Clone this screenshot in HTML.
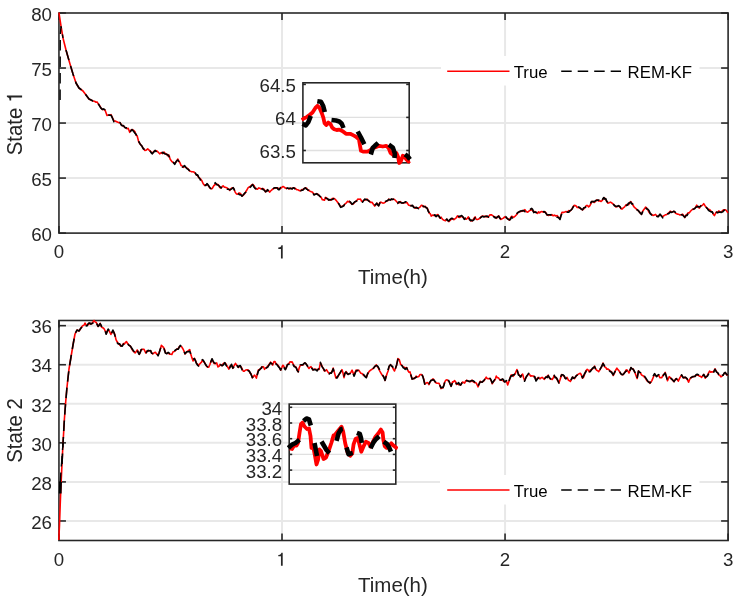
<!DOCTYPE html><html><head><meta charset="utf-8"><style>html,body{margin:0;padding:0;background:#fff;}svg{display:block;will-change:transform;}</style></head><body>
<svg width="742" height="600" viewBox="0 0 742 600" font-family="&apos;Liberation Sans&apos;, sans-serif" font-size="18.7" fill="#262626">
<rect x="0" y="0" width="742" height="600" fill="#fff"/>
<line x1="58.95" y1="178.07" x2="728.1" y2="178.07" stroke="#e8e8e8" stroke-width="2"/>
<line x1="58.95" y1="123.05" x2="728.1" y2="123.05" stroke="#e8e8e8" stroke-width="2"/>
<line x1="58.95" y1="68.03" x2="728.1" y2="68.03" stroke="#e8e8e8" stroke-width="2"/>
<line x1="282.0" y1="13.0" x2="282.0" y2="233.1" stroke="#e8e8e8" stroke-width="2"/>
<line x1="505.05" y1="13.0" x2="505.05" y2="233.1" stroke="#e8e8e8" stroke-width="2"/>
<rect x="58.95" y="13.0" width="669.15" height="220.1" fill="none" stroke="#262626" stroke-width="1.58"/>
<line x1="58.95" y1="233.1" x2="65.95" y2="233.1" stroke="#262626" stroke-width="1.58"/>
<line x1="728.1" y1="233.1" x2="721.1" y2="233.1" stroke="#262626" stroke-width="1.58"/>
<line x1="58.95" y1="178.07" x2="65.95" y2="178.07" stroke="#262626" stroke-width="1.58"/>
<line x1="728.1" y1="178.07" x2="721.1" y2="178.07" stroke="#262626" stroke-width="1.58"/>
<line x1="58.95" y1="123.05" x2="65.95" y2="123.05" stroke="#262626" stroke-width="1.58"/>
<line x1="728.1" y1="123.05" x2="721.1" y2="123.05" stroke="#262626" stroke-width="1.58"/>
<line x1="58.95" y1="68.03" x2="65.95" y2="68.03" stroke="#262626" stroke-width="1.58"/>
<line x1="728.1" y1="68.03" x2="721.1" y2="68.03" stroke="#262626" stroke-width="1.58"/>
<line x1="58.95" y1="13.0" x2="65.95" y2="13.0" stroke="#262626" stroke-width="1.58"/>
<line x1="728.1" y1="13.0" x2="721.1" y2="13.0" stroke="#262626" stroke-width="1.58"/>
<line x1="58.95" y1="233.1" x2="58.95" y2="226.1" stroke="#262626" stroke-width="1.58"/>
<line x1="58.95" y1="13.0" x2="58.95" y2="20.0" stroke="#262626" stroke-width="1.58"/>
<line x1="282.0" y1="233.1" x2="282.0" y2="226.1" stroke="#262626" stroke-width="1.58"/>
<line x1="282.0" y1="13.0" x2="282.0" y2="20.0" stroke="#262626" stroke-width="1.58"/>
<line x1="505.05" y1="233.1" x2="505.05" y2="226.1" stroke="#262626" stroke-width="1.58"/>
<line x1="505.05" y1="13.0" x2="505.05" y2="20.0" stroke="#262626" stroke-width="1.58"/>
<line x1="728.1" y1="233.1" x2="728.1" y2="226.1" stroke="#262626" stroke-width="1.58"/>
<line x1="728.1" y1="13.0" x2="728.1" y2="20.0" stroke="#262626" stroke-width="1.58"/>
<polyline points="58.6,12.8 59.0,13.0 61.0,26.0 63.0,38.0 66.0,50.0 70.0,64.0 73.0,74.0 76.0,83.0 79.0,88.0 83.0,91.0 86.0,95.0 89.0,99.0 93.0,101.0 94.5,101.3 96.0,102.2 97.0,101.9 98.0,103.4 99.5,105.4 101.0,107.9 102.3,109.5 103.7,109.4 105.0,110.0 106.0,112.8 107.0,115.5 108.3,115.0 109.7,115.3 111.0,114.6 112.5,117.8 114.0,120.8 115.3,121.1 116.7,121.7 118.0,122.3 119.0,122.7 120.0,122.6 121.1,124.1 122.2,125.7 123.5,125.9 124.7,127.2 126.0,128.1 127.1,128.7 128.2,128.3 129.7,132.3 130.8,130.2 132.0,129.6 133.5,130.2 135.0,131.9 136.1,135.2 137.2,136.0 138.7,141.9 140.2,143.9 141.7,145.9 143.2,148.3 144.7,150.4 146.2,150.1 147.7,148.9 148.8,149.8 150.0,150.9 151.1,151.9 152.2,153.5 153.7,151.6 155.2,151.0 156.7,150.8 158.2,152.2 159.7,153.8 161.2,152.5 162.7,153.6 164.0,152.1 165.2,153.6 166.5,154.0 167.6,155.7 168.7,154.8 170.2,159.2 171.7,161.4 173.2,162.6 174.7,163.4 176.2,161.9 177.7,159.0 178.8,161.0 180.0,162.7 181.1,165.6 182.2,165.9 183.3,167.3 184.5,166.6 185.7,167.0 187.0,168.3 188.2,169.0 189.7,171.1 191.2,171.6 192.7,171.8 194.2,172.1 195.3,173.6 196.5,175.1 197.6,175.6 198.7,177.6 200.2,178.5 201.7,180.4 203.2,183.8 204.7,185.6 205.8,185.1 207.0,184.1 208.5,186.0 210.0,188.1 211.1,188.8 212.2,188.5 213.7,185.9 215.2,184.4 217.0,184.2 218.4,184.8 219.7,187.4 221.1,187.9 222.1,186.7 223.1,185.8 224.2,187.1 225.4,187.3 226.5,187.8 227.6,188.3 228.7,189.1 229.8,190.4 230.9,188.9 232.1,187.7 233.2,187.9 234.2,189.7 235.2,192.1 236.2,193.6 237.2,194.3 238.2,193.6 239.3,193.0 240.7,193.8 242.0,196.0 243.3,195.3 244.6,193.8 245.7,191.8 246.9,190.0 248.0,187.9 249.3,186.9 250.7,186.1 251.7,185.0 252.7,184.3 254.1,185.7 255.4,188.5 256.4,189.0 257.5,189.1 258.8,187.9 260.1,188.3 261.2,189.0 262.4,188.4 263.5,188.8 264.5,190.1 265.5,192.0 266.6,190.4 267.6,190.3 268.6,190.7 269.6,192.1 270.6,191.0 271.6,190.2 272.7,188.9 273.9,188.5 275.0,187.9 276.0,188.1 277.0,187.7 278.0,188.0 279.0,189.2 280.4,188.7 281.7,187.4 283.1,186.5 284.2,187.1 285.3,188.1 286.4,188.5 287.5,188.1 288.7,188.9 289.8,188.8 290.9,188.2 292.1,188.6 293.2,188.0 294.5,188.0 295.9,189.0 297.0,189.8 298.1,189.8 299.2,190.6 300.5,190.8 301.9,189.5 303.0,189.5 304.2,188.8 305.3,187.8 306.6,188.3 308.0,190.4 309.0,190.2 310.0,191.2 311.4,191.8 312.7,192.3 314.0,194.6 315.4,194.0 316.7,194.0 317.8,194.1 319.0,195.6 320.1,196.5 321.2,197.4 322.4,199.8 323.5,199.9 324.5,200.1 325.5,197.4 326.6,197.7 327.8,199.6 328.9,199.9 329.9,199.8 330.9,200.3 332.2,198.6 333.6,198.3 334.7,198.9 335.9,200.1 337.0,201.4 338.0,202.7 339.0,204.6 340.7,206.8 342.2,206.2 343.7,205.8 345.0,203.9 346.4,202.9 347.4,201.3 348.4,201.9 349.4,201.2 350.4,202.8 352.0,204.1 353.2,204.1 354.5,202.4 355.6,201.5 356.7,200.7 357.8,199.1 359.1,199.2 360.5,199.0 361.6,201.3 362.6,201.4 363.7,200.5 364.8,199.9 365.9,199.9 367.0,199.0 368.2,200.6 369.3,201.1 370.6,202.4 372.0,202.2 373.4,204.2 374.7,206.1 375.7,204.9 376.7,203.3 377.7,203.8 378.7,205.7 380.1,202.3 381.5,202.4 382.8,203.1 384.1,203.0 385.5,201.8 386.6,200.9 387.7,200.8 388.8,199.1 390.1,199.8 391.5,199.6 392.9,199.3 394.2,199.2 395.3,200.3 396.5,201.5 397.6,202.7 399.0,203.0 400.3,201.6 401.6,202.8 403.0,203.3 404.4,202.5 405.7,202.7 407.0,202.5 408.4,204.9 409.7,205.5 411.0,205.5 412.4,205.7 413.8,207.0 415.1,208.0 416.2,208.3 417.4,208.2 418.5,208.2 419.9,207.2 421.2,205.4 422.2,205.4 423.2,206.7 424.2,206.6 425.2,206.3 426.2,207.8 427.2,208.0 428.2,210.4 429.3,213.2 430.3,213.8 431.3,216.1 432.6,215.1 434.0,215.6 435.0,215.4 436.0,216.2 437.0,214.8 438.0,214.6 439.0,216.7 440.0,217.9 441.1,217.2 442.1,218.8 443.1,219.8 444.1,220.2 445.5,220.7 446.8,219.3 447.8,220.4 448.8,221.6 449.8,220.7 450.8,219.7 451.8,218.8 452.8,218.6 453.9,219.6 454.9,218.8 456.2,217.8 457.6,215.8 458.6,217.2 459.6,217.5 460.6,216.9 461.6,216.1 463.0,217.3 464.3,218.3 465.3,218.9 466.3,219.2 467.3,218.3 468.3,216.9 469.4,219.6 470.4,220.5 471.4,220.9 472.4,220.8 473.8,218.6 475.1,216.9 476.1,219.3 477.1,219.6 478.1,219.3 479.1,218.7 480.2,218.0 481.4,216.5 482.5,216.1 483.6,216.2 484.8,216.8 485.9,216.0 487.2,217.1 488.6,216.5 490.0,214.9 491.3,214.7 492.6,215.6 493.9,216.4 495.2,216.9 496.6,218.3 497.6,217.1 498.7,215.9 499.7,217.4 500.7,219.4 502.0,218.8 503.4,218.1 504.7,216.9 505.7,217.3 506.7,218.2 508.0,218.9 509.4,220.2 510.4,218.2 511.5,216.4 512.5,216.5 513.5,217.5 514.5,216.6 515.5,215.8 516.5,214.8 517.5,213.2 518.9,211.8 520.2,211.6 521.5,211.3 522.9,211.2 523.9,210.2 524.9,209.6 526.2,211.5 527.6,212.2 528.6,211.5 529.6,210.5 530.7,210.2 531.7,208.9 532.7,210.9 533.7,211.7 535.0,211.5 536.4,212.8 537.5,213.4 538.7,211.8 539.8,212.8 540.8,211.7 541.8,211.5 542.9,211.9 544.0,212.1 545.1,211.7 546.2,213.5 547.2,215.0 548.5,215.4 549.9,215.0 550.9,215.2 551.9,214.6 553.2,215.8 554.6,215.1 556.0,216.1 557.3,215.6 558.6,217.6 560.0,218.6 561.0,215.2 562.0,212.3 563.4,212.4 564.7,212.0 566.0,211.5 567.4,212.0 568.8,210.6 570.1,211.0 571.1,210.0 572.1,208.7 573.9,205.6 575.0,205.4 576.1,206.0 577.2,207.5 578.2,207.3 579.5,208.1 580.9,208.6 582.5,209.9 583.7,208.9 584.9,207.6 586.2,205.6 587.6,205.6 588.6,206.9 589.6,206.1 590.6,204.4 591.6,201.6 593.0,201.5 594.3,202.5 595.6,201.3 597.0,199.8 598.4,200.9 599.7,200.6 601.1,201.5 602.5,200.2 603.8,197.8 604.8,198.2 605.8,199.7 606.8,201.2 607.8,203.2 609.1,202.8 610.5,202.1 611.9,203.0 613.2,204.2 614.5,205.2 615.9,207.0 617.2,206.5 618.6,205.9 620.0,207.3 621.3,208.9 622.3,208.9 623.3,207.8 624.6,206.9 626.0,204.9 627.4,204.6 628.7,204.6 629.7,202.6 630.7,201.5 631.7,203.0 632.7,204.8 634.0,206.8 635.4,208.1 636.8,209.3 638.1,210.7 639.2,211.5 640.4,213.2 641.5,214.3 642.5,211.7 643.5,210.0 644.5,208.8 645.5,207.2 646.5,207.8 647.6,209.4 649.0,212.2 650.3,213.6 651.6,214.3 653.0,215.5 654.3,214.9 655.6,214.4 657.0,216.4 658.3,216.2 660.0,214.7 661.4,215.8 662.7,216.8 664.0,215.7 665.4,214.8 666.5,214.7 667.5,213.9 668.9,212.7 670.2,211.2 671.3,212.0 672.4,211.9 674.0,211.3 675.6,213.3 676.7,213.7 677.8,214.2 678.8,214.3 679.9,215.0 681.2,214.8 682.6,214.1 683.7,215.6 684.8,217.6 685.9,215.1 687.0,214.3 688.0,212.9 689.1,213.0 690.7,211.0 692.3,209.5 693.4,209.1 694.5,208.7 695.6,207.4 696.7,205.2 698.0,207.0 699.4,208.1 700.5,205.9 701.5,205.7 702.6,205.1 703.7,203.6 705.3,206.2 706.3,207.4 707.4,208.4 708.5,209.6 709.6,209.6 711.0,211.0 712.3,212.2 713.3,214.2 714.4,215.6 716.1,212.2 717.5,212.4 718.8,210.9 720.1,212.2 721.5,211.7 722.9,210.3 724.2,209.8 725.2,209.8 726.3,210.4 727.9,212.9" fill="none" stroke="#ff0000" stroke-width="1.6" stroke-linejoin="round"/>
<polyline points="60.1,100 60.2,60 60.3,35 61,26 63,38" fill="none" stroke="#000" stroke-width="1.4" stroke-dasharray="10.5 6"/>
<polyline points="66.0,50.0 70.0,64.0 73.0,74.0 76.0,83.0 79.0,88.0 83.0,91.0 86.0,95.0 89.0,99.0 93.0,101.0 94.5,101.3 96.0,101.8 97.0,102.1 98.0,103.2 99.5,105.9 101.0,108.2 102.3,109.4 103.7,108.9 105.0,110.0 106.0,112.2 107.0,114.6 108.3,114.9 109.7,115.1 111.0,115.2 112.5,118.2 114.0,122.0 115.3,122.1 116.7,121.6 118.0,123.1 119.0,122.6 120.0,122.5 121.1,124.8 122.2,125.6 123.5,125.6 124.7,127.4 126.0,127.9 127.1,127.8 128.2,128.3 129.7,132.2 130.8,131.1 132.0,129.6 133.5,131.2 135.0,133.3 136.1,134.4 137.2,136.6 138.7,141.4 140.2,144.2 141.7,145.7 143.2,148.7 144.7,149.6 146.2,149.1 147.7,149.0 148.8,149.7 150.0,150.9 151.1,152.6 152.2,153.8 153.7,152.1 155.2,150.4 156.7,152.2 158.2,152.9 159.7,154.1 161.2,154.0 162.7,152.3 164.0,153.3 165.2,154.0 166.5,154.2 167.6,154.7 168.7,155.9 170.2,158.5 171.7,161.4 173.2,162.2 174.7,164.3 176.2,161.4 177.7,160.0 178.8,161.2 180.0,162.4 181.1,165.1 182.2,167.1 183.3,166.7 184.5,165.6 185.7,167.2 187.0,168.6 188.2,169.4 189.7,170.8 191.2,172.2 192.7,172.0 194.2,173.1 195.3,173.0 196.5,175.1 197.6,174.8 198.7,177.1 200.2,179.4 201.7,182.8 203.2,183.7 204.7,184.8 205.8,185.5 207.0,183.6 208.5,185.5 210.0,187.9 211.1,188.6 212.2,188.5 213.7,186.2 215.2,182.7 217.0,184.8 218.4,185.2 219.7,186.5 221.1,187.9 222.1,187.0 223.1,186.4 224.2,186.5 225.4,187.6 226.5,188.5 227.6,189.3 228.7,189.3 229.8,189.9 230.9,189.3 232.1,188.6 233.2,187.7 234.2,189.5 235.2,191.5 236.2,193.6 237.2,194.5 238.2,193.7 239.3,194.6 240.7,194.7 242.0,196.1 243.3,194.8 244.6,193.2 245.7,192.4 246.9,190.1 248.0,188.3 249.3,187.8 250.7,186.8 251.7,185.5 252.7,184.5 254.1,187.3 255.4,188.6 256.4,188.5 257.5,189.9 258.8,189.0 260.1,188.3 261.2,188.8 262.4,188.9 263.5,189.9 264.5,190.4 265.5,191.8 266.6,191.3 267.6,189.6 268.6,191.3 269.6,191.7 270.6,191.5 271.6,189.9 272.7,189.7 273.9,188.0 275.0,187.8 276.0,187.8 277.0,187.8 278.0,189.2 279.0,189.8 280.4,187.6 281.7,187.1 283.1,187.3 284.2,187.4 285.3,187.2 286.4,188.5 287.5,188.0 288.7,188.4 289.8,188.4 290.9,188.4 292.1,189.1 293.2,187.8 294.5,188.3 295.9,190.1 297.0,189.4 298.1,190.1 299.2,190.6 300.5,190.7 301.9,190.2 303.0,190.1 304.2,188.4 305.3,187.9 306.6,189.1 308.0,189.9 309.0,190.2 310.0,190.9 311.4,190.5 312.7,192.2 314.0,194.9 315.4,194.3 316.7,193.6 317.8,194.7 319.0,195.2 320.1,196.6 321.2,196.8 322.4,199.1 323.5,199.5 324.5,199.3 325.5,198.1 326.6,198.5 327.8,198.8 328.9,200.2 329.9,199.5 330.9,199.8 332.2,199.5 333.6,198.7 334.7,199.4 335.9,199.8 337.0,200.7 338.0,203.1 339.0,203.9 340.7,207.4 342.2,206.7 343.7,205.8 345.0,203.5 346.4,203.2 347.4,201.7 348.4,201.1 349.4,201.5 350.4,201.9 352.0,204.3 353.2,203.4 354.5,201.9 355.6,201.4 356.7,200.9 357.8,199.6 359.1,199.6 360.5,200.4 361.6,201.2 362.6,202.1 363.7,200.4 364.8,199.1 365.9,199.4 367.0,199.8 368.2,200.4 369.3,201.5 370.6,201.9 372.0,202.7 373.4,205.2 374.7,205.0 375.7,204.5 376.7,203.1 377.7,204.9 378.7,205.8 380.1,202.5 381.5,202.6 382.8,203.7 384.1,201.8 385.5,201.4 386.6,201.0 387.7,200.3 388.8,199.4 390.1,200.1 391.5,198.9 392.9,199.4 394.2,198.8 395.3,200.2 396.5,201.4 397.6,203.5 399.0,201.7 400.3,202.3 401.6,203.0 403.0,202.9 404.4,202.4 405.7,201.7 407.0,202.5 408.4,205.3 409.7,204.9 411.0,206.0 412.4,205.3 413.8,207.5 415.1,207.7 416.2,207.3 417.4,208.0 418.5,208.7 419.9,207.0 421.2,204.9 422.2,205.7 423.2,206.1 424.2,206.7 425.2,206.8 426.2,207.8 427.2,208.3 428.2,211.2 429.3,212.7 430.3,214.2 431.3,215.9 432.6,215.6 434.0,215.2 435.0,214.8 436.0,216.7 437.0,215.7 438.0,215.4 439.0,216.1 440.0,218.0 441.1,218.1 442.1,218.4 443.1,220.2 444.1,220.1 445.5,220.4 446.8,219.0 447.8,220.7 448.8,221.0 449.8,219.6 450.8,218.8 451.8,218.3 452.8,218.9 453.9,219.5 454.9,218.2 456.2,218.4 457.6,216.8 458.6,216.4 459.6,216.4 460.6,216.0 461.6,215.5 463.0,216.9 464.3,219.4 465.3,218.2 466.3,219.4 467.3,218.7 468.3,216.7 469.4,218.6 470.4,220.7 471.4,220.0 472.4,220.8 473.8,219.9 475.1,217.7 476.1,218.4 477.1,220.1 478.1,219.5 479.1,218.5 480.2,217.8 481.4,217.0 482.5,216.3 483.6,216.9 484.8,216.5 485.9,216.5 487.2,216.0 488.6,217.2 490.0,215.5 491.3,214.8 492.6,216.7 493.9,216.6 495.2,217.9 496.6,217.6 497.6,216.7 498.7,216.2 499.7,218.0 500.7,219.3 502.0,219.3 503.4,218.8 504.7,217.0 505.7,216.6 506.7,217.9 508.0,219.2 509.4,219.9 510.4,219.5 511.5,217.1 512.5,217.9 513.5,217.5 514.5,216.5 515.5,216.7 516.5,214.6 517.5,212.7 518.9,212.0 520.2,211.1 521.5,210.9 522.9,210.6 523.9,210.7 524.9,211.6 526.2,211.7 527.6,211.9 528.6,212.1 529.6,210.1 530.7,209.0 531.7,208.4 532.7,209.6 533.7,212.6 535.0,212.1 536.4,212.4 537.5,212.5 538.7,212.4 539.8,211.7 540.8,211.7 541.8,211.7 542.9,212.1 544.0,211.5 545.1,212.3 546.2,213.6 547.2,215.0 548.5,214.8 549.9,214.8 550.9,214.9 551.9,214.0 553.2,214.4 554.6,215.3 556.0,216.4 557.3,217.3 558.6,217.6 560.0,219.5 561.0,215.8 562.0,213.2 563.4,212.6 564.7,212.2 566.0,211.2 567.4,212.2 568.8,212.3 570.1,210.6 571.1,210.1 572.1,208.9 573.9,205.7 575.0,206.7 576.1,207.0 577.2,208.2 578.2,207.1 579.5,207.3 580.9,208.9 582.5,209.9 583.7,207.8 584.9,207.5 586.2,206.7 587.6,205.9 588.6,205.7 589.6,205.7 590.6,203.2 591.6,201.5 593.0,201.6 594.3,201.6 595.6,200.6 597.0,200.3 598.4,200.0 599.7,200.8 601.1,202.7 602.5,199.5 603.8,197.5 604.8,199.1 605.8,198.7 606.8,201.8 607.8,202.0 609.1,202.0 610.5,201.6 611.9,202.8 613.2,204.0 614.5,205.7 615.9,206.3 617.2,206.4 618.6,205.6 620.0,206.6 621.3,209.0 622.3,208.2 623.3,207.8 624.6,206.9 626.0,205.8 627.4,205.0 628.7,203.0 629.7,203.0 630.7,202.0 631.7,203.9 632.7,203.9 634.0,206.1 635.4,208.3 636.8,209.8 638.1,210.2 639.2,211.9 640.4,213.1 641.5,214.4 642.5,212.2 643.5,210.1 644.5,209.0 645.5,207.0 646.5,209.0 647.6,209.0 649.0,210.5 650.3,213.6 651.6,214.9 653.0,215.2 654.3,215.0 655.6,213.8 657.0,216.4 658.3,216.7 660.0,214.1 661.4,215.9 662.7,217.9 664.0,216.0 665.4,213.8 666.5,213.8 667.5,213.7 668.9,213.6 670.2,211.9 671.3,212.4 672.4,212.1 674.0,211.3 675.6,212.4 676.7,213.0 677.8,213.7 678.8,214.4 679.9,215.6 681.2,214.7 682.6,215.0 683.7,216.2 684.8,217.3 685.9,215.6 687.0,215.5 688.0,213.9 689.1,212.9 690.7,211.8 692.3,210.0 693.4,209.0 694.5,208.8 695.6,207.5 696.7,206.9 698.0,206.4 699.4,207.0 700.5,206.3 701.5,205.3 702.6,204.5 703.7,204.7 705.3,206.7 706.3,207.5 707.4,208.6 708.5,210.3 709.6,211.1 711.0,211.9 712.3,211.9 713.3,214.4 714.4,215.1 716.1,211.5 717.5,212.8 718.8,212.2 720.1,212.1 721.5,212.4 722.9,211.7 724.2,210.1 725.2,210.8 726.3,211.6 727.9,212.9" fill="none" stroke="#000" stroke-width="1.6" stroke-dasharray="10.5 6" stroke-linejoin="round"/>
<text x="51.95" y="240.8" text-anchor="end">60</text>
<text x="51.95" y="185.8" text-anchor="end">65</text>
<text x="51.95" y="130.8" text-anchor="end">70</text>
<text x="51.95" y="75.7" text-anchor="end">75</text>
<text x="51.95" y="20.7" text-anchor="end">80</text>
<text x="58.95" y="258.4" text-anchor="middle">0</text>
<path d="M280.95,258.40 L282.71,258.40 L282.71,245.25 L281.38,245.25 L281.01,246.43 L279.98,247.37 L278.30,247.52 L278.30,248.96 L280.95,248.96Z" fill="#262626"/>
<text x="505.05" y="258.4" text-anchor="middle">2</text>
<text x="728.1" y="258.4" text-anchor="middle">3</text>
<text transform="translate(392.93,283.8) scale(1,1.028)" text-anchor="middle" font-size="20.5">Time(h)</text>
<g transform="translate(22.1,123.05) rotate(-90) scale(1,1.06)"><text x="-32.32" y="0" font-size="20.4">State </text><path d="M25.51,0.00 L27.43,0.00 L27.43,-14.34 L25.98,-14.34 L25.57,-13.06 L24.45,-12.04 L22.61,-11.87 L22.61,-10.30 L25.51,-10.30Z" fill="#262626"/></g>
<rect x="441" y="56" width="258.5" height="29.5" fill="#fff"/>
<line x1="447.2" y1="71.2" x2="509.5" y2="71.2" stroke="#ff0000" stroke-width="1.4"/>
<text x="513.7" y="77.8" font-size="16.8" fill="#000">True</text>
<line x1="561.2" y1="71.2" x2="621" y2="71.2" stroke="#000" stroke-width="1.4" stroke-dasharray="10.5 6"/>
<text x="627.6" y="77.8" font-size="16.8" fill="#000">REM-KF</text>
<rect x="302.9" y="82.8" width="106.30000000000001" height="80.00000000000001" fill="#fff"/>
<line x1="302.9" y1="117.4" x2="409.2" y2="117.4" stroke="#e0e0e0" stroke-width="1.3"/>
<line x1="302.9" y1="150.5" x2="409.2" y2="150.5" stroke="#e0e0e0" stroke-width="1.3"/>
<rect x="302.9" y="82.8" width="106.30000000000001" height="80.00000000000001" fill="none" stroke="#262626" stroke-width="1.58"/>
<line x1="302.9" y1="84.4" x2="305.9" y2="84.4" stroke="#262626" stroke-width="1.58"/>
<line x1="409.2" y1="84.4" x2="406.2" y2="84.4" stroke="#262626" stroke-width="1.58"/>
<line x1="302.9" y1="117.4" x2="305.9" y2="117.4" stroke="#262626" stroke-width="1.58"/>
<line x1="409.2" y1="117.4" x2="406.2" y2="117.4" stroke="#262626" stroke-width="1.58"/>
<line x1="302.9" y1="150.5" x2="305.9" y2="150.5" stroke="#262626" stroke-width="1.58"/>
<line x1="409.2" y1="150.5" x2="406.2" y2="150.5" stroke="#262626" stroke-width="1.58"/>
<svg x="301.0" y="80.89999999999999" width="110.10000000000001" height="83.80000000000001" viewBox="301.0 80.89999999999999 110.10000000000001 83.80000000000001" overflow="hidden">
<polyline points="301.7,120.0 304.2,118.3 306.7,117.1 309.5,115.0 312.5,112.5 315.4,107.9 317.5,105.8 319.6,107.9 321.7,112.9 323.3,117.5 324.6,123.3 326.2,125.0 328.3,122.5 330.4,123.8 332.1,127.5 334.2,129.2 336.7,130.0 339.3,129.6 342.7,131.2 346.0,133.8 350.2,133.8 353.5,135.4 356.0,136.7 358.9,139.2 360.2,146.7 361.0,150.8 363.5,151.7 366.8,151.7 369.3,150.8 372.7,148.3 376.3,146.9 379.2,145.8 382.8,146.5 386.3,145.8 388.5,147.9 390.6,153.0 393.5,155.1 396.4,153.0 398.2,157.3 399.2,163.0 400.7,161.6 402.8,155.8 404.5,156.5 406.4,159.4 408.6,161.6 410.0,161.0" fill="none" stroke="#ff0000" stroke-width="3.8" stroke-linejoin="round"/>
<polyline points="302.5,123.8 305.8,125.4 308.3,122.1 310.8,115.8" fill="none" stroke="#000" stroke-width="4.6" stroke-linejoin="round"/>
<polyline points="317.3,101.2 321.0,101.8 323.2,106.0 324.8,112.0" fill="none" stroke="#000" stroke-width="4.6" stroke-linejoin="round"/>
<polyline points="331.5,120.0 336.0,120.5 339.3,121.5 341.8,123.8 343.5,128.0" fill="none" stroke="#000" stroke-width="4.6" stroke-linejoin="round"/>
<polyline points="357.7,131.5 361.0,137.5 364.3,144.2" fill="none" stroke="#000" stroke-width="4.6" stroke-linejoin="round"/>
<polyline points="370.8,154.5 372.7,148.0 374.9,145.8 378.1,142.9" fill="none" stroke="#000" stroke-width="4.6" stroke-linejoin="round"/>
<polyline points="388.8,144.7 392.8,147.6 394.9,153.7 394.5,158.0" fill="none" stroke="#000" stroke-width="4.6" stroke-linejoin="round"/>
<polyline points="405.0,154.4 407.8,156.5 410.0,159.4" fill="none" stroke="#000" stroke-width="4.6" stroke-linejoin="round"/>
</svg>
<text x="295.9" y="92.1" text-anchor="end">64.5</text>
<text x="295.9" y="125.1" text-anchor="end">64</text>
<text x="295.9" y="158.2" text-anchor="end">63.5</text>
<line x1="58.95" y1="520.97" x2="728.1" y2="520.97" stroke="#e8e8e8" stroke-width="2"/>
<line x1="58.95" y1="481.91" x2="728.1" y2="481.91" stroke="#e8e8e8" stroke-width="2"/>
<line x1="58.95" y1="442.85" x2="728.1" y2="442.85" stroke="#e8e8e8" stroke-width="2"/>
<line x1="58.95" y1="403.79" x2="728.1" y2="403.79" stroke="#e8e8e8" stroke-width="2"/>
<line x1="58.95" y1="364.73" x2="728.1" y2="364.73" stroke="#e8e8e8" stroke-width="2"/>
<line x1="58.95" y1="325.67" x2="728.1" y2="325.67" stroke="#e8e8e8" stroke-width="2"/>
<line x1="282.0" y1="320.5" x2="282.0" y2="540.5" stroke="#e8e8e8" stroke-width="2"/>
<line x1="505.05" y1="320.5" x2="505.05" y2="540.5" stroke="#e8e8e8" stroke-width="2"/>
<rect x="58.95" y="320.5" width="669.15" height="220.0" fill="none" stroke="#262626" stroke-width="1.58"/>
<line x1="58.95" y1="520.97" x2="65.95" y2="520.97" stroke="#262626" stroke-width="1.58"/>
<line x1="728.1" y1="520.97" x2="721.1" y2="520.97" stroke="#262626" stroke-width="1.58"/>
<line x1="58.95" y1="481.91" x2="65.95" y2="481.91" stroke="#262626" stroke-width="1.58"/>
<line x1="728.1" y1="481.91" x2="721.1" y2="481.91" stroke="#262626" stroke-width="1.58"/>
<line x1="58.95" y1="442.85" x2="65.95" y2="442.85" stroke="#262626" stroke-width="1.58"/>
<line x1="728.1" y1="442.85" x2="721.1" y2="442.85" stroke="#262626" stroke-width="1.58"/>
<line x1="58.95" y1="403.79" x2="65.95" y2="403.79" stroke="#262626" stroke-width="1.58"/>
<line x1="728.1" y1="403.79" x2="721.1" y2="403.79" stroke="#262626" stroke-width="1.58"/>
<line x1="58.95" y1="364.73" x2="65.95" y2="364.73" stroke="#262626" stroke-width="1.58"/>
<line x1="728.1" y1="364.73" x2="721.1" y2="364.73" stroke="#262626" stroke-width="1.58"/>
<line x1="58.95" y1="325.67" x2="65.95" y2="325.67" stroke="#262626" stroke-width="1.58"/>
<line x1="728.1" y1="325.67" x2="721.1" y2="325.67" stroke="#262626" stroke-width="1.58"/>
<line x1="58.95" y1="540.5" x2="58.95" y2="533.5" stroke="#262626" stroke-width="1.58"/>
<line x1="58.95" y1="320.5" x2="58.95" y2="327.5" stroke="#262626" stroke-width="1.58"/>
<line x1="282.0" y1="540.5" x2="282.0" y2="533.5" stroke="#262626" stroke-width="1.58"/>
<line x1="282.0" y1="320.5" x2="282.0" y2="327.5" stroke="#262626" stroke-width="1.58"/>
<line x1="505.05" y1="540.5" x2="505.05" y2="533.5" stroke="#262626" stroke-width="1.58"/>
<line x1="505.05" y1="320.5" x2="505.05" y2="327.5" stroke="#262626" stroke-width="1.58"/>
<line x1="728.1" y1="540.5" x2="728.1" y2="533.5" stroke="#262626" stroke-width="1.58"/>
<line x1="728.1" y1="320.5" x2="728.1" y2="327.5" stroke="#262626" stroke-width="1.58"/>
<polyline points="58.8,540.0 59.5,525.0 60.2,505.0 61.0,485.0 62.0,464.0 63.0,443.0 63.5,435.0 64.4,419.0 65.6,403.0 67.0,387.0 69.0,369.0 71.0,357.0 73.0,345.0 75.0,334.0 77.0,330.0 79.0,331.0 81.0,328.0 82.0,326.5 83.0,325.5 84.0,325.3 85.0,323.0 86.0,324.9 87.0,325.0 88.0,325.0 89.0,323.1 90.0,324.1 91.0,323.3 92.0,323.7 93.0,322.0 94.0,320.5 95.0,321.9 96.1,322.2 97.1,324.3 98.1,326.5 99.1,324.9 100.1,323.3 101.1,326.5 102.1,327.5 103.2,327.9 104.2,329.0 105.2,331.0 106.2,333.4 107.2,331.1 108.2,329.8 109.6,331.6 110.9,334.4 111.9,332.6 112.9,331.1 113.9,332.4 114.9,334.6 116.0,339.7 117.0,341.6 118.3,343.2 119.6,344.7 120.9,346.1 122.3,345.3 123.3,343.6 124.4,344.0 125.4,342.5 126.4,341.5 127.4,343.3 128.4,344.5 129.4,345.5 130.4,346.2 131.8,349.0 133.1,351.1 134.1,351.8 135.1,352.9 136.1,351.8 137.2,350.0 138.2,351.7 139.2,354.3 140.2,352.6 141.2,349.8 142.6,349.3 143.9,349.2 144.9,351.1 145.9,353.1 146.9,350.9 148.0,351.2 149.3,350.8 150.6,350.7 151.6,352.9 152.7,353.9 154.1,352.8 155.4,352.3 156.8,354.2 158.1,354.7 159.1,352.5 160.1,350.1 161.4,345.2 162.4,346.2 163.5,347.4 164.5,349.3 165.5,353.0 166.8,353.4 168.2,353.0 169.6,354.1 170.9,354.2 171.9,354.5 172.9,352.0 174.2,351.4 175.6,350.6 176.9,349.0 178.3,348.5 179.3,346.7 180.3,346.2 181.7,346.8 183.0,349.0 184.0,351.2 185.0,353.9 186.0,352.8 187.0,351.7 188.3,350.7 189.7,349.5 190.7,354.0 191.7,357.1 193.1,360.9 194.4,358.3 195.4,360.4 196.5,363.2 197.5,364.0 198.5,365.9 199.5,364.2 200.5,363.1 201.5,362.2 202.5,359.9 203.5,361.5 204.5,362.4 205.6,364.5 206.6,366.2 207.6,367.3 208.6,367.3 209.9,364.5 210.9,361.4 212.0,359.4 213.0,361.3 214.0,363.5 215.3,363.7 216.7,362.9 218.0,366.9 219.0,366.3 220.0,364.4 221.1,365.5 222.1,365.6 223.4,363.4 224.8,362.7 225.8,363.8 226.8,365.7 227.8,367.2 228.8,369.2 230.2,365.8 231.5,365.3 232.8,368.3 234.2,365.5 235.5,363.3 236.8,365.4 238.2,367.4 239.2,366.8 240.3,366.3 241.3,367.1 242.3,369.3 243.3,371.1 244.3,371.2 245.7,370.0 247.0,369.8 248.0,370.0 249.0,370.6 250.0,373.0 251.0,373.7 252.4,377.7 253.4,376.6 254.4,375.1 255.4,376.2 256.4,378.2 257.4,373.5 258.4,369.9 259.4,370.0 260.5,368.4 261.5,367.2 262.5,366.8 263.5,366.8 264.5,369.3 265.5,368.3 266.5,367.8 267.6,366.2 268.6,365.3 269.6,363.8 270.6,362.2 271.6,363.2 272.6,365.1 274.0,361.5 275.0,361.5 276.0,364.1 277.0,364.2 278.0,365.2 279.4,367.7 280.7,370.2 281.7,368.0 282.7,365.3 283.4,365.5 284.4,367.5 285.4,369.1 286.4,367.3 287.4,364.5 288.8,363.7 290.1,361.7 291.1,362.1 292.1,361.9 293.1,363.8 294.2,365.9 295.2,366.6 296.2,367.2 297.2,370.0 298.2,371.8 299.2,367.9 300.2,365.5 301.5,365.0 302.9,365.1 303.9,363.6 304.9,362.9 305.9,363.8 307.0,365.4 308.0,367.1 309.0,368.5 310.0,367.3 311.0,366.7 312.0,368.1 313.0,369.9 314.0,369.0 315.0,369.2 316.1,369.3 317.1,370.0 318.1,369.5 319.1,369.4 320.4,362.8 321.4,364.7 322.5,367.0 323.5,369.2 324.5,371.0 325.5,370.7 326.5,369.7 327.9,371.9 329.2,373.6 330.2,373.3 331.2,372.7 332.2,371.0 333.2,368.1 334.5,372.9 335.9,378.0 336.9,376.7 338.0,376.7 339.0,374.2 340.0,372.9 341.0,371.8 342.0,369.7 343.0,373.0 344.0,377.6 345.0,373.8 346.0,371.5 347.1,372.9 348.1,374.5 349.1,373.7 350.1,373.4 351.1,372.0 352.1,370.2 353.1,372.9 354.1,375.1 355.1,372.4 356.1,370.1 357.5,370.6 358.8,370.3 359.9,371.9 360.9,373.3 362.2,373.6 363.6,375.5 365.0,375.9 366.3,377.5 367.6,374.3 369.0,371.6 370.3,370.4 371.6,369.5 372.6,368.9 373.7,368.2 375.0,366.2 376.3,364.8 377.4,366.7 378.4,368.1 379.8,371.1 381.1,373.3 382.1,375.0 383.1,376.3 384.1,377.1 385.1,380.4 386.1,376.8 387.1,373.5 388.1,371.0 389.2,366.4 390.5,364.6 391.5,365.9 392.5,367.3 393.5,369.4 394.5,371.0 395.6,367.9 396.6,365.3 397.9,358.5 399.3,359.7 400.6,364.3 402.0,365.4 403.3,367.0 404.3,367.3 405.3,367.9 406.7,367.5 408.0,370.8 409.0,372.2 410.0,371.9 411.1,375.8 412.1,379.1 413.1,378.1 414.1,378.7 415.1,377.8 416.1,376.1 417.5,376.9 418.8,376.5 420.1,374.5 421.5,374.5 422.8,376.2 423.9,379.4 424.9,384.1 425.9,383.3 426.9,382.5 427.9,382.8 428.9,384.6 429.9,382.1 430.9,380.7 431.9,379.9 433.0,378.9 434.0,379.9 435.0,381.9 436.0,382.8 437.0,383.2 438.0,383.2 439.0,383.3 440.0,385.6 441.0,388.6 442.1,388.0 443.1,387.7 444.1,383.9 445.1,381.2 446.1,380.0 447.1,379.8 448.1,380.8 449.1,381.6 450.1,383.9 451.1,386.3 452.5,381.9 453.5,381.9 454.5,380.6 455.5,381.5 456.5,384.5 457.6,383.6 458.6,384.7 459.6,383.9 460.6,385.1 461.6,383.3 462.6,382.0 463.6,382.5 464.6,383.1 465.6,381.2 466.6,380.3 468.0,380.9 469.3,381.5 470.6,381.8 472.0,380.2 473.0,381.6 474.0,382.3 475.1,382.8 476.1,382.8 477.1,384.6 478.1,386.8 479.1,384.1 480.1,381.2 481.1,382.1 482.1,382.2 483.1,381.3 484.2,380.6 485.2,378.8 486.2,377.1 487.2,378.5 488.2,378.7 489.2,378.4 490.2,378.8 491.2,380.6 492.2,383.8 493.2,382.0 494.3,380.8 495.3,379.3 496.3,376.1 497.3,377.7 498.3,377.8 499.3,379.1 500.3,380.2 501.3,380.2 502.3,379.1 503.4,381.2 504.4,381.6 505.4,381.4 506.4,381.1 507.7,384.9 508.8,381.8 509.8,378.8 511.1,375.1 512.1,374.9 513.1,376.3 514.1,375.0 515.1,373.9 516.9,369.5 518.5,374.1 519.5,375.4 520.5,377.1 521.5,375.2 522.6,374.0 523.6,377.8 524.6,380.5 525.6,378.2 526.6,376.6 527.6,375.0 528.6,374.0 529.6,374.5 530.6,376.1 531.7,375.9 532.7,376.0 533.7,376.1 534.7,377.2 536.0,380.2 537.0,378.8 538.1,377.4 539.1,378.1 540.1,378.8 541.1,377.7 542.1,377.4 543.1,378.2 544.1,379.3 545.1,378.4 546.1,376.5 547.2,376.6 548.2,375.2 549.2,377.7 550.2,378.7 551.2,379.0 552.2,379.5 553.2,377.9 554.2,375.6 555.2,377.0 556.3,377.8 557.6,380.3 558.9,383.0 560.2,379.2 561.6,374.5 563.0,375.6 564.3,376.4 565.0,378.2 566.0,378.6 567.0,377.4 568.4,380.1 569.4,380.7 570.4,381.5 571.4,379.4 572.4,377.3 573.4,377.4 574.4,378.7 575.5,377.2 576.5,375.5 577.5,374.7 578.5,374.1 579.5,373.5 580.5,373.3 581.5,375.4 582.5,378.2 583.5,377.1 584.5,374.6 585.9,370.8 587.2,369.4 588.2,370.2 589.3,371.7 590.3,369.9 591.3,369.8 592.3,369.1 593.3,368.1 594.6,366.1 595.7,369.0 596.7,370.3 597.7,370.7 598.7,371.7 599.7,370.1 600.7,368.3 601.9,366.3 603.0,363.0 604.8,367.0 605.8,367.4 606.8,369.3 607.8,368.9 608.8,369.7 610.1,370.9 611.5,371.6 613.2,375.5 614.4,373.4 615.5,370.5 616.9,368.1 617.9,369.7 618.9,370.6 619.9,372.4 620.9,373.7 622.0,374.8 623.0,374.7 624.0,373.2 625.0,372.4 626.0,370.0 627.0,369.9 628.0,371.2 629.0,373.0 630.0,370.4 631.0,367.7 632.0,368.7 633.1,368.7 634.1,371.1 635.1,372.9 636.1,375.7 637.1,378.5 638.5,370.9 639.5,372.1 640.5,373.0 641.5,374.8 642.5,375.6 643.5,376.0 644.5,377.3 645.5,378.2 646.5,380.0 647.6,381.4 648.8,381.5 649.9,383.4 650.9,382.1 651.9,380.6 653.2,377.5 654.6,374.1 655.6,375.4 656.6,375.8 657.7,375.9 658.7,375.1 660.0,377.8 661.6,377.8 663.2,375.0 664.2,374.3 665.2,372.4 666.5,377.1 667.5,380.8 669.2,376.7 670.8,378.1 672.4,379.9 674.0,381.6 675.1,379.6 676.2,378.6 677.2,379.6 678.3,381.1 679.9,377.6 681.6,375.2 683.2,377.9 684.2,377.9 685.3,377.3 687.0,378.8 688.6,382.2 689.7,379.3 690.7,378.0 691.8,377.2 692.9,376.9 694.0,376.4 695.0,376.0 696.1,375.4 697.2,374.9 698.3,375.2 699.4,376.2 700.5,376.3 701.5,377.4 702.6,376.1 703.7,374.4 705.3,378.2 706.3,376.3 707.4,375.6 708.5,373.1 709.6,371.0 710.7,372.3 711.8,371.7 713.4,372.0 715.0,368.8 716.6,371.6 717.7,373.1 718.8,374.8 719.8,375.2 720.9,376.9 722.0,376.1 723.1,375.1 724.2,373.3 725.2,372.5 726.8,375.0 727.9,374.5" fill="none" stroke="#ff0000" stroke-width="1.6" stroke-linejoin="round"/>
<polyline points="60.2,493.5 60.5,482" fill="none" stroke="#000" stroke-width="2.8"/>
<polyline points="60.3,483 61,470 62,458 63,443" fill="none" stroke="#000" stroke-width="1.4" stroke-dasharray="10.5 6"/>
<polyline points="62.0,464.0 63.0,443.0 63.5,435.0 64.4,419.0 65.6,403.0 67.0,387.0 69.0,369.0 71.0,357.0 73.0,345.0 75.0,334.0 77.0,330.0 79.0,331.0 81.0,328.0 82.0,327.2 83.0,325.2 84.0,324.7 85.0,324.0 86.0,325.7 87.0,326.0 88.0,323.8 89.0,323.1 90.0,323.0 91.0,324.1 92.0,323.4 93.0,323.0 94.0,320.7 95.0,321.3 96.1,322.1 97.1,324.3 98.1,326.4 99.1,325.4 100.1,323.6 101.1,325.2 102.1,327.7 103.2,327.6 104.2,329.1 105.2,330.9 106.2,334.3 107.2,331.7 108.2,329.1 109.6,331.1 110.9,334.5 111.9,332.4 112.9,330.0 113.9,332.3 114.9,335.5 116.0,338.4 117.0,342.5 118.3,344.0 119.6,343.7 120.9,345.9 122.3,346.2 123.3,344.4 124.4,343.3 125.4,342.2 126.4,342.1 127.4,341.9 128.4,344.8 129.4,345.5 130.4,346.1 131.8,348.2 133.1,350.2 134.1,351.6 135.1,353.5 136.1,351.1 137.2,350.3 138.2,352.6 139.2,354.4 140.2,352.4 141.2,349.6 142.6,349.5 143.9,349.3 144.9,352.0 145.9,353.1 146.9,351.7 148.0,350.4 149.3,350.7 150.6,350.6 151.6,353.3 152.7,353.5 154.1,352.5 155.4,351.5 156.8,353.5 158.1,355.8 159.1,353.2 160.1,349.5 161.4,345.9 162.4,346.4 163.5,346.6 164.5,350.4 165.5,353.1 166.8,353.7 168.2,352.4 169.6,353.3 170.9,354.3 171.9,352.6 172.9,352.1 174.2,351.3 175.6,349.9 176.9,349.1 178.3,349.2 179.3,347.0 180.3,345.4 181.7,347.2 183.0,348.7 184.0,350.6 185.0,353.7 186.0,352.6 187.0,351.7 188.3,351.7 189.7,351.3 190.7,353.7 191.7,357.3 193.1,359.3 194.4,358.6 195.4,360.6 196.5,363.5 197.5,365.1 198.5,366.0 199.5,364.6 200.5,363.5 201.5,361.1 202.5,359.6 203.5,360.7 204.5,362.6 205.6,364.5 206.6,366.0 207.6,366.8 208.6,367.4 209.9,365.4 210.9,361.8 212.0,358.7 213.0,360.8 214.0,362.6 215.3,363.3 216.7,363.3 218.0,365.4 219.0,365.4 220.0,364.4 221.1,364.9 222.1,365.7 223.4,364.9 224.8,362.7 225.8,364.7 226.8,366.2 227.8,366.7 228.8,369.9 230.2,366.8 231.5,364.3 232.8,368.1 234.2,366.7 235.5,363.3 236.8,365.1 238.2,367.3 239.2,365.8 240.3,365.6 241.3,368.0 242.3,370.1 243.3,370.7 244.3,371.5 245.7,371.1 247.0,370.0 248.0,370.5 249.0,371.0 250.0,372.3 251.0,374.3 252.4,377.6 253.4,375.6 254.4,376.0 255.4,376.0 256.4,376.7 257.4,374.4 258.4,371.0 259.4,369.9 260.5,368.7 261.5,368.1 262.5,365.6 263.5,368.0 264.5,368.8 265.5,368.5 266.5,367.7 267.6,367.3 268.6,365.6 269.6,364.3 270.6,362.7 271.6,363.8 272.6,363.9 274.0,360.9 275.0,362.7 276.0,363.7 277.0,364.7 278.0,366.1 279.4,367.7 280.7,370.0 281.7,367.2 282.7,365.0 283.4,365.4 284.4,368.2 285.4,369.7 286.4,367.4 287.4,364.7 288.8,364.3 290.1,362.7 291.1,361.9 292.1,361.9 293.1,364.6 294.2,366.5 295.2,366.9 296.2,367.8 297.2,370.5 298.2,371.8 299.2,369.2 300.2,365.1 301.5,364.7 302.9,364.6 303.9,363.7 304.9,362.8 305.9,363.7 307.0,365.2 308.0,366.7 309.0,368.4 310.0,367.9 311.0,366.6 312.0,368.6 313.0,369.9 314.0,369.7 315.0,369.4 316.1,370.1 317.1,370.9 318.1,369.2 319.1,368.6 320.4,362.4 321.4,365.3 322.5,367.5 323.5,368.5 324.5,370.6 325.5,370.4 326.5,369.8 327.9,372.4 329.2,373.9 330.2,372.9 331.2,373.3 332.2,371.5 333.2,368.7 334.5,373.8 335.9,376.6 336.9,378.1 338.0,375.9 339.0,374.6 340.0,373.0 341.0,371.0 342.0,370.3 343.0,372.9 344.0,375.9 345.0,373.1 346.0,372.1 347.1,373.7 348.1,374.4 349.1,373.8 350.1,373.6 351.1,371.8 352.1,370.9 353.1,373.6 354.1,376.1 355.1,373.4 356.1,371.0 357.5,370.4 358.8,370.3 359.9,371.2 360.9,372.0 362.2,373.3 363.6,374.4 365.0,376.6 366.3,377.7 367.6,373.6 369.0,371.4 370.3,371.0 371.6,370.0 372.6,368.9 373.7,367.8 375.0,366.3 376.3,365.6 377.4,365.9 378.4,367.3 379.8,370.0 381.1,373.5 382.1,374.6 383.1,375.8 384.1,378.1 385.1,380.3 386.1,376.1 387.1,373.8 388.1,369.7 389.2,366.0 390.5,364.7 391.5,366.1 392.5,366.3 393.5,369.7 394.5,371.0 395.6,368.0 396.6,364.9 397.9,359.4 399.3,360.5 400.6,364.7 402.0,365.7 403.3,367.8 404.3,368.4 405.3,369.3 406.7,367.8 408.0,371.5 409.0,371.5 410.0,372.4 411.1,375.6 412.1,379.1 413.1,378.8 414.1,378.4 415.1,377.8 416.1,377.2 417.5,376.4 418.8,375.8 420.1,374.7 421.5,374.0 422.8,376.4 423.9,380.5 424.9,384.9 425.9,383.0 426.9,383.5 427.9,383.2 428.9,384.3 429.9,382.1 430.9,380.4 431.9,380.4 433.0,379.8 434.0,380.3 435.0,381.6 436.0,382.2 437.0,382.3 438.0,384.1 439.0,383.5 440.0,385.6 441.0,387.8 442.1,387.4 443.1,387.5 444.1,384.8 445.1,380.7 446.1,380.2 447.1,379.0 448.1,379.6 449.1,381.3 450.1,384.0 451.1,386.3 452.5,382.6 453.5,380.7 454.5,380.7 455.5,381.8 456.5,383.8 457.6,383.7 458.6,382.5 459.6,384.7 460.6,385.1 461.6,383.5 462.6,381.7 463.6,383.0 464.6,383.2 465.6,381.6 466.6,380.6 468.0,381.0 469.3,381.6 470.6,381.0 472.0,380.5 473.0,380.7 474.0,381.4 475.1,382.6 476.1,382.1 477.1,384.6 478.1,386.1 479.1,383.8 480.1,382.0 481.1,382.0 482.1,382.1 483.1,381.2 484.2,379.9 485.2,378.3 486.2,377.7 487.2,378.4 488.2,379.6 489.2,379.1 490.2,378.4 491.2,380.5 492.2,382.9 493.2,381.7 494.3,380.1 495.3,378.0 496.3,378.2 497.3,378.4 498.3,378.3 499.3,379.1 500.3,380.0 501.3,379.9 502.3,379.0 503.4,379.5 504.4,381.9 505.4,381.7 506.4,380.5 507.7,383.9 508.8,381.8 509.8,378.6 511.1,375.8 512.1,375.9 513.1,374.9 514.1,374.9 515.1,373.0 516.9,369.1 518.5,375.0 519.5,375.4 520.5,377.0 521.5,375.4 522.6,375.3 523.6,377.1 524.6,381.2 525.6,378.4 526.6,376.2 527.6,374.9 528.6,373.3 529.6,375.5 530.6,375.6 531.7,376.1 532.7,376.0 533.7,376.7 534.7,376.5 536.0,381.0 537.0,379.5 538.1,378.2 539.1,377.6 540.1,378.5 541.1,378.6 542.1,377.8 543.1,378.5 544.1,378.9 545.1,378.0 546.1,377.1 547.2,377.6 548.2,375.7 549.2,377.2 550.2,378.6 551.2,379.7 552.2,379.9 553.2,377.7 554.2,375.3 555.2,377.8 556.3,377.6 557.6,380.0 558.9,383.0 560.2,378.4 561.6,374.7 563.0,374.7 564.3,376.1 565.0,377.9 566.0,378.8 567.0,377.7 568.4,380.3 569.4,380.9 570.4,380.8 571.4,379.3 572.4,377.1 573.4,378.1 574.4,378.0 575.5,376.8 576.5,375.6 577.5,374.8 578.5,373.7 579.5,373.4 580.5,373.4 581.5,375.4 582.5,377.8 583.5,376.0 584.5,373.7 585.9,371.7 587.2,368.4 588.2,370.4 589.3,371.7 590.3,371.7 591.3,370.1 592.3,368.4 593.3,367.8 594.6,366.7 595.7,369.2 596.7,370.4 597.7,371.4 598.7,371.3 599.7,369.9 600.7,368.2 601.9,366.0 603.0,363.5 604.8,366.6 605.8,367.2 606.8,368.6 607.8,369.2 608.8,370.2 610.1,371.5 611.5,372.2 613.2,374.8 614.4,372.5 615.5,371.0 616.9,369.4 617.9,370.4 618.9,370.9 619.9,372.0 620.9,373.9 622.0,374.6 623.0,374.4 624.0,373.6 625.0,372.1 626.0,371.2 627.0,370.9 628.0,371.4 629.0,373.6 630.0,370.1 631.0,367.6 632.0,368.7 633.1,369.3 634.1,370.7 635.1,372.9 636.1,375.7 637.1,378.4 638.5,371.0 639.5,372.4 640.5,372.5 641.5,374.7 642.5,376.1 643.5,375.3 644.5,376.1 645.5,377.6 646.5,379.1 647.6,380.9 648.8,382.3 649.9,382.9 650.9,381.9 651.9,380.4 653.2,376.1 654.6,373.6 655.6,375.3 656.6,376.7 657.7,375.1 658.7,374.6 660.0,377.4 661.6,377.6 663.2,375.7 664.2,374.0 665.2,373.2 666.5,377.0 667.5,380.8 669.2,377.7 670.8,378.3 672.4,379.7 674.0,381.6 675.1,380.1 676.2,378.6 677.2,379.4 678.3,380.2 679.9,377.6 681.6,374.8 683.2,377.7 684.2,377.4 685.3,377.2 687.0,378.6 688.6,381.8 689.7,379.9 690.7,377.9 691.8,377.1 692.9,376.5 694.0,376.5 695.0,376.5 696.1,374.7 697.2,374.2 698.3,374.8 699.4,375.8 700.5,377.0 701.5,378.1 702.6,376.1 703.7,374.5 705.3,377.2 706.3,377.0 707.4,376.1 708.5,374.1 709.6,372.2 710.7,371.8 711.8,372.0 713.4,372.9 715.0,369.3 716.6,372.1 717.7,372.7 718.8,374.5 719.8,374.7 720.9,377.4 722.0,375.3 723.1,375.3 724.2,373.2 725.2,372.4 726.8,374.8 727.9,374.5" fill="none" stroke="#000" stroke-width="1.6" stroke-dasharray="10.5 6" stroke-linejoin="round"/>
<text x="51.95" y="528.7" text-anchor="end">26</text>
<text x="51.95" y="489.6" text-anchor="end">28</text>
<text x="51.95" y="450.6" text-anchor="end">30</text>
<text x="51.95" y="411.5" text-anchor="end">32</text>
<text x="51.95" y="372.4" text-anchor="end">34</text>
<text x="51.95" y="333.4" text-anchor="end">36</text>
<text x="58.95" y="565.8" text-anchor="middle">0</text>
<path d="M280.95,565.80 L282.71,565.80 L282.71,552.65 L281.38,552.65 L281.01,553.83 L279.98,554.77 L278.30,554.92 L278.30,556.36 L280.95,556.36Z" fill="#262626"/>
<text x="505.05" y="565.8" text-anchor="middle">2</text>
<text x="728.1" y="565.8" text-anchor="middle">3</text>
<text transform="translate(392.93,591.6) scale(1,1.028)" text-anchor="middle" font-size="20.5">Time(h)</text>
<text transform="translate(22.1,430.5) rotate(-90) scale(1,1.06)" text-anchor="middle" font-size="20.4">State 2</text>
<rect x="440" y="475" width="259.5" height="29.5" fill="#fff"/>
<line x1="447.2" y1="490" x2="509.5" y2="490" stroke="#ff0000" stroke-width="1.6"/>
<text x="513.7" y="496.7" font-size="16.8" fill="#000">True</text>
<line x1="561.2" y1="490" x2="621" y2="490" stroke="#000" stroke-width="1.4" stroke-dasharray="10.5 6"/>
<text x="627.6" y="496.7" font-size="16.8" fill="#000">REM-KF</text>
<rect x="289.2" y="404.1" width="106.60000000000002" height="80.0" fill="#fff"/>
<line x1="289.2" y1="407.3" x2="395.8" y2="407.3" stroke="#e0e0e0" stroke-width="1.3"/>
<line x1="289.2" y1="423.0" x2="395.8" y2="423.0" stroke="#e0e0e0" stroke-width="1.3"/>
<line x1="289.2" y1="438.7" x2="395.8" y2="438.7" stroke="#e0e0e0" stroke-width="1.3"/>
<line x1="289.2" y1="454.4" x2="395.8" y2="454.4" stroke="#e0e0e0" stroke-width="1.3"/>
<line x1="289.2" y1="470.1" x2="395.8" y2="470.1" stroke="#e0e0e0" stroke-width="1.3"/>
<rect x="289.2" y="404.1" width="106.60000000000002" height="80.0" fill="none" stroke="#262626" stroke-width="1.58"/>
<line x1="289.2" y1="407.3" x2="292.2" y2="407.3" stroke="#262626" stroke-width="1.58"/>
<line x1="395.8" y1="407.3" x2="392.8" y2="407.3" stroke="#262626" stroke-width="1.58"/>
<line x1="289.2" y1="423.0" x2="292.2" y2="423.0" stroke="#262626" stroke-width="1.58"/>
<line x1="395.8" y1="423.0" x2="392.8" y2="423.0" stroke="#262626" stroke-width="1.58"/>
<line x1="289.2" y1="438.7" x2="292.2" y2="438.7" stroke="#262626" stroke-width="1.58"/>
<line x1="395.8" y1="438.7" x2="392.8" y2="438.7" stroke="#262626" stroke-width="1.58"/>
<line x1="289.2" y1="454.4" x2="292.2" y2="454.4" stroke="#262626" stroke-width="1.58"/>
<line x1="395.8" y1="454.4" x2="392.8" y2="454.4" stroke="#262626" stroke-width="1.58"/>
<line x1="289.2" y1="470.1" x2="292.2" y2="470.1" stroke="#262626" stroke-width="1.58"/>
<line x1="395.8" y1="470.1" x2="392.8" y2="470.1" stroke="#262626" stroke-width="1.58"/>
<svg x="287.3" y="402.20000000000005" width="110.40000000000002" height="83.8" viewBox="287.3 402.20000000000005 110.40000000000002 83.8" overflow="hidden">
<polyline points="289.5,448.5 292.0,449.0 294.0,445.5 296.5,445.5 298.0,443.0 299.5,433.0 301.0,424.0 302.5,422.5 304.5,426.5 307.0,429.0 309.0,428.5 310.5,436.0 311.5,448.0 313.5,448.5 315.0,456.0 316.5,464.5 318.0,460.0 319.5,449.5 321.0,451.0 323.5,459.0 326.0,457.5 329.0,450.0 331.5,442.5 333.6,435.4 334.8,435.0 338.0,431.0 341.5,426.7 343.2,431.7 345.2,443.3 347.8,453.3 350.2,455.8 352.3,453.3 353.6,444.2 355.7,438.8 357.8,437.9 359.4,444.2 361.3,451.7 363.8,445.8 365.9,441.7 368.4,442.9 370.5,446.7 372.6,442.5 375.5,436.7 378.4,433.3 380.9,429.6 382.6,432.5 383.4,440.0 384.7,446.2 386.8,447.9 389.2,445.8 391.3,443.3 393.8,445.8 396.3,447.9 397.6,448.6" fill="none" stroke="#ff0000" stroke-width="3.8" stroke-linejoin="round"/>
<polyline points="288.3,448.0 292.5,444.3 295.5,443.0 299.5,439.8" fill="none" stroke="#000" stroke-width="4.6" stroke-linejoin="round"/>
<polyline points="303.5,421.0 306.5,418.5 309.0,419.5 310.8,425.5" fill="none" stroke="#000" stroke-width="4.6" stroke-linejoin="round"/>
<polyline points="314.5,443.0 317.0,456.0" fill="none" stroke="#000" stroke-width="4.6" stroke-linejoin="round"/>
<polyline points="321.5,441.5 326.5,450.0 329.4,453.3" fill="none" stroke="#000" stroke-width="4.6" stroke-linejoin="round"/>
<polyline points="336.5,440.8 338.6,433.3 341.1,429.2 342.8,428.8" fill="none" stroke="#000" stroke-width="4.6" stroke-linejoin="round"/>
<polyline points="346.5,447.5 348.6,454.2 352.8,452.9" fill="none" stroke="#000" stroke-width="4.6" stroke-linejoin="round"/>
<polyline points="356.9,432.9 359.8,434.0 361.0,438.0 361.8,442.9" fill="none" stroke="#000" stroke-width="4.6" stroke-linejoin="round"/>
<polyline points="370.5,448.3 373.4,442.5 375.9,439.2 379.2,436.2" fill="none" stroke="#000" stroke-width="4.6" stroke-linejoin="round"/>
<polyline points="383.8,441.7 387.2,444.2 389.2,447.5 390.9,451.7" fill="none" stroke="#000" stroke-width="4.6" stroke-linejoin="round"/>
</svg>
<text x="282.2" y="415.0" text-anchor="end">34</text>
<text x="282.2" y="430.7" text-anchor="end">33.8</text>
<text x="282.2" y="446.4" text-anchor="end">33.6</text>
<text x="282.2" y="462.1" text-anchor="end">33.4</text>
<text x="282.2" y="477.8" text-anchor="end">33.2</text>
</svg></body></html>
